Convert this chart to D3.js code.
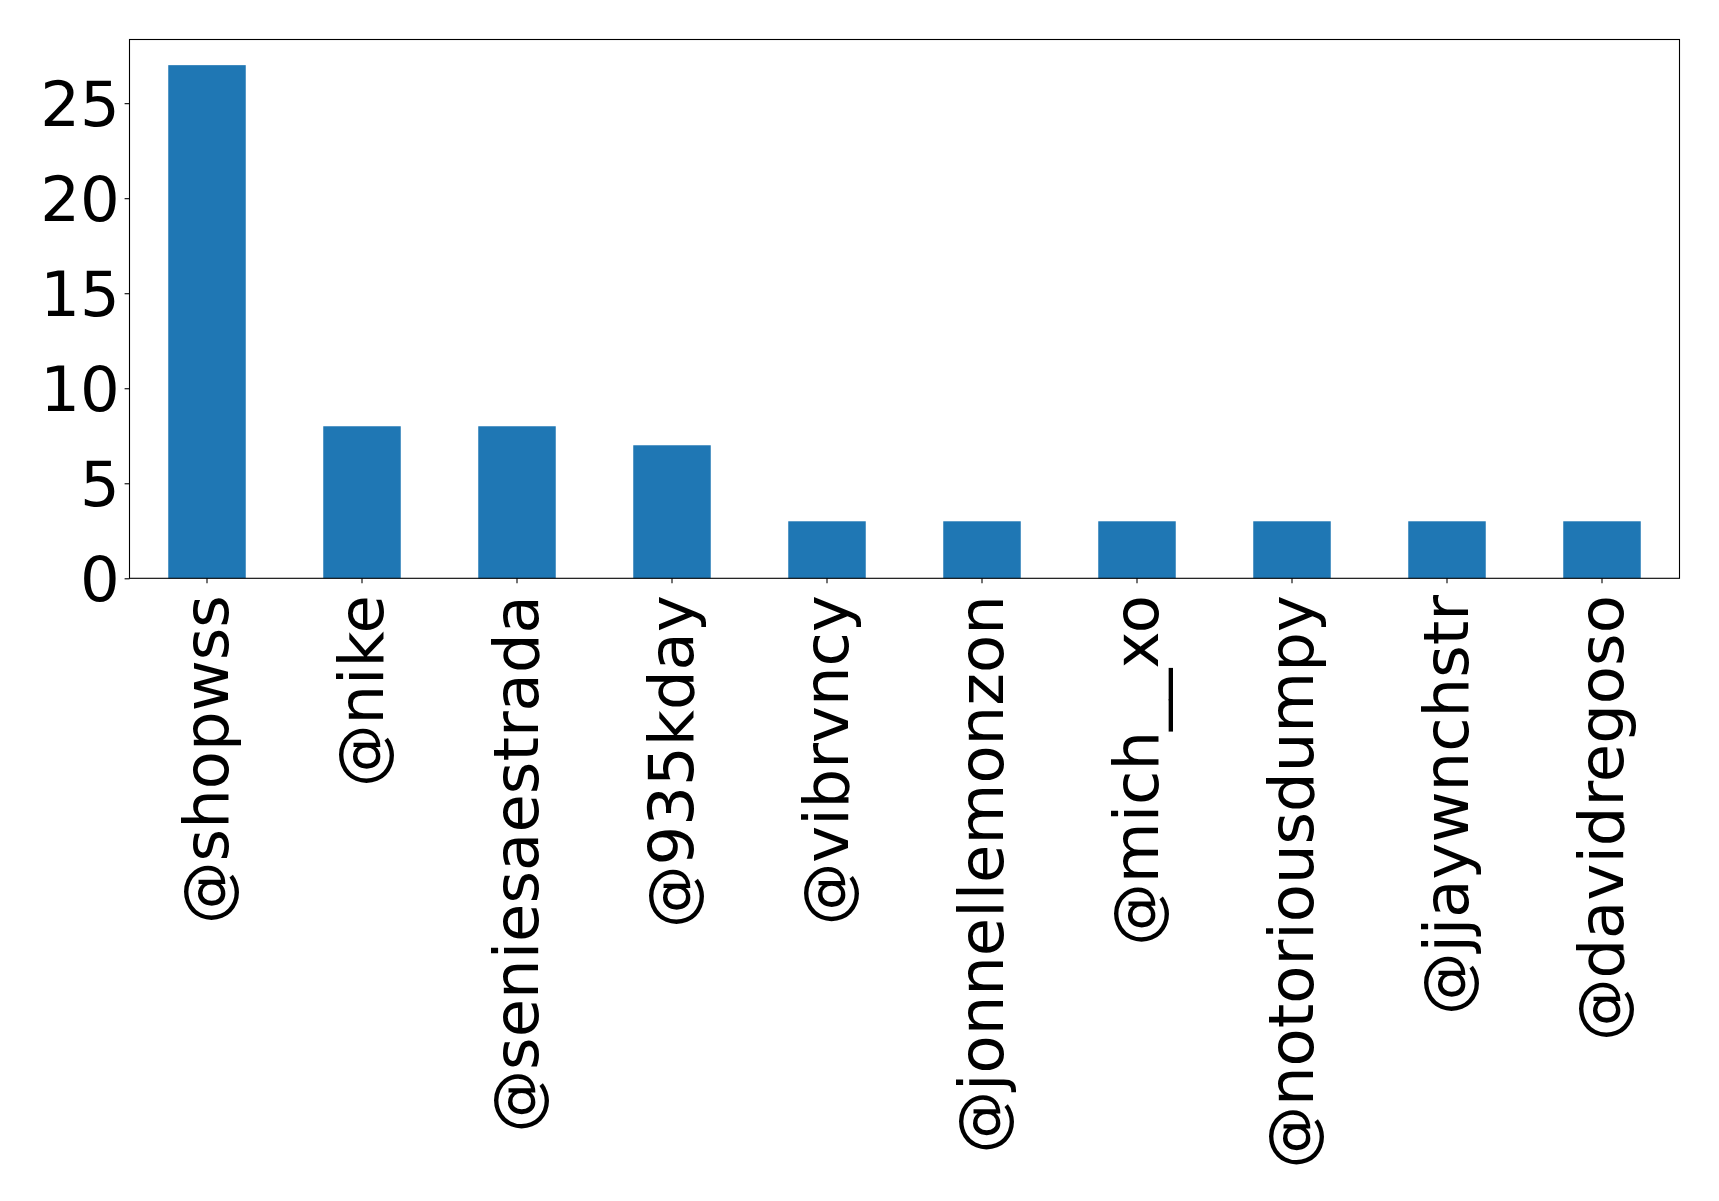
<!DOCTYPE html>
<html>
<head>
<meta charset="utf-8">
<script src="https://cdn.jsdelivr.net/npm/d3@7"></script>
<style>
  body { margin: 0; background: #fff; }
  svg text { font-family: "DejaVu Sans", sans-serif; fill: #000; }
</style>
</head>
<body>
<svg></svg>
<script>
var width = 1719;
var height = 1201;

// data
var users = ['@shopwss', '@nike', '@seniesaestrada', '@935kday', '@vibrvncy',
    '@jonnellemonzon', '@mich__xo', '@notoriousdumpy', '@jjaywnchstr', '@davidregoso'];
var counts = [27, 8, 8, 7, 3, 3, 3, 3, 3, 3];
var yTicks = [0, 5, 10, 15, 20, 25];

var margin = { left: 129.5, right: 1679.5, top: 39.5, bottom: 578.3 };
var fontSize = 62.5;
var tickLen = 4.9;
var pad = 4.9;

var svg = d3.select('svg')
    .attr('width', width)
    .attr('height', height);

var x = d3.scaleBand()
    .domain(users)
    .range([margin.left, margin.right])
    .paddingInner(0.5)
    .paddingOuter(0.25);

var y = d3.scaleLinear()
    .domain([0, d3.max(counts) * 1.05])
    .range([margin.bottom, margin.top]);

// bars
svg.selectAll('rect.bar')
    .data(counts)
    .enter()
    .append('rect')
    .attr('class', 'bar')
    .attr('x', function (d, i) { return x(users[i]); })
    .attr('y', function (d) { return y(d); })
    .attr('width', x.bandwidth())
    .attr('height', function (d) { return y(0) - y(d); })
    .attr('fill', '#1f77b4');

// y axis
var yAxis = d3.axisLeft(y)
    .tickValues(yTicks)
    .tickSize(tickLen)
    .tickPadding(pad);

var gy = svg.append('g')
    .attr('transform', 'translate(' + margin.left + ',0)')
    .call(yAxis);
gy.select('.domain').remove();
gy.selectAll('line').attr('stroke', '#000').attr('stroke-width', 1.1);
gy.selectAll('text')
    .style('font-size', fontSize + 'px')
    .attr('dy', '0.36em');

// x axis, labels turned upright
var xAxis = d3.axisBottom(x)
    .tickSize(tickLen)
    .tickPadding(pad);

var gx = svg.append('g')
    .attr('transform', 'translate(0,' + margin.bottom + ')')
    .call(xAxis);
gx.select('.domain').remove();
gx.selectAll('line').attr('stroke', '#000').attr('stroke-width', 1.1);
gx.selectAll('text')
    .style('font-size', fontSize + 'px')
    .attr('text-anchor', 'end')
    .attr('y', 0)
    .attr('dy', '0.34em')
    .attr('transform', 'translate(0,' + (tickLen + pad + 7) + ') rotate(-90)');

// frame
svg.append('rect')
    .attr('x', margin.left)
    .attr('y', margin.top)
    .attr('width', margin.right - margin.left)
    .attr('height', margin.bottom - margin.top)
    .attr('fill', 'none')
    .attr('stroke', '#000')
    .attr('stroke-width', 1.1);
</script>
</body>
</html>
